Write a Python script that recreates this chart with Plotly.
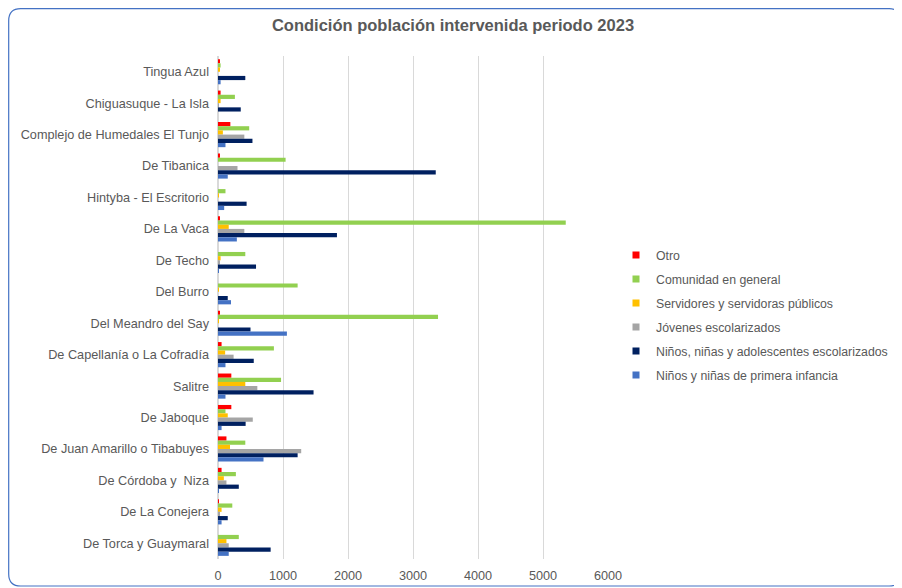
import plotly.graph_objects as go

humedales = [
    "Tingua Azul",
    "Chiguasuque - La Isla",
    "Complejo de Humedales El Tunjo",
    "De Tibanica",
    "Hintyba - El Escritorio",
    "De La Vaca",
    "De Techo",
    "Del Burro",
    "Del Meandro del Say",
    "De Capellanía o La Cofradía",
    "Salitre",
    "De Jaboque",
    "De Juan Amarillo o Tibabuyes",
    "De Córdoba y  Niza",
    "De La Conejera",
    "De Torca y Guaymaral",
]

otro = [25, 40, 190, 20, 0, 20, 0, 0, 20, 55, 205, 205, 130, 55, 15, 0]
comunidad = [40, 260, 480, 1040, 115, 5350, 420, 1225, 3385, 860, 970, 115, 420, 275, 220, 320]
servidores = [20, 40, 75, 0, 15, 165, 40, 15, 15, 110, 420, 150, 185, 90, 55, 130]
jovenes = [0, 10, 405, 300, 0, 405, 20, 0, 0, 240, 605, 535, 1280, 130, 30, 165]
nna_escolarizados = [420, 350, 530, 3350, 440, 1830, 585, 150, 500, 550, 1470, 425, 1225, 320, 150, 810]
primera_infancia = [40, 0, 115, 150, 95, 290, 15, 200, 1060, 115, 115, 55, 700, 15, 55, 165]

series = [
    ("Otro", otro, "#FF0000"),
    ("Comunidad en general", comunidad, "#92D050"),
    ("Servidores y servidoras públicos", servidores, "#FFC000"),
    ("Jóvenes escolarizados", jovenes, "#A5A5A5"),
    ("Niños, niñas y adolescentes escolarizados", nna_escolarizados, "#002060"),
    ("Niños y niñas de primera infancia", primera_infancia, "#4472C4"),
]

texto = "#595959"
fs = 12.7
fig = go.Figure()

for nombre, valores, color in series:
    fig.add_trace(go.Bar(
        name=nombre, y=humedales, x=valores, orientation="h",
        marker=dict(color=color, line=dict(width=0)),
        showlegend=False,
    ))
    # legend entry with a small square marker like the original
    fig.add_trace(go.Scatter(
        name=nombre, x=[None], y=[None], mode="markers",
        marker=dict(symbol="square", size=7, color=color),
        legendgroup=nombre,
    ))

# the page has an 8px body margin, so sizes are reduced by 8
W, H = 894, 580
L, R, T, B = 210, 294, 48, 29
pw, ph = W - L - R, H - T - B


def px(x, y):
    return (x - L) / pw, (H - B - y) / ph


def frame_path(x0, y0, x1, y1, r):
    def p(x, y):
        a, b = px(x, y)
        return f"{a:.5f},{b:.5f}"
    pts = [
        "M " + p(x0 + r, y0),
        "L " + p(x1 - r, y0),
        "Q " + p(x1, y0) + " " + p(x1, y0 + r),
        "L " + p(x1, y1 - r),
        "Q " + p(x1, y1) + " " + p(x1 - r, y1),
        "L " + p(x0 + r, y1),
        "Q " + p(x0, y1) + " " + p(x0, y1 - r),
        "L " + p(x0, y0 + r),
        "Q " + p(x0, y0) + " " + p(x0 + r, y0),
    ]
    return " ".join(pts) + " Z"


fig.update_layout(
    width=W, height=H,
    margin=dict(l=L, r=R, t=T, b=B, autoexpand=False),
    paper_bgcolor="white", plot_bgcolor="white",
    font=dict(family="Liberation Sans, Arial, sans-serif", size=fs, color=texto),
    title=dict(
        text="<b>Condición población intervenida periodo 2023</b>",
        x=445 / W, xanchor="center", y=1 - 17 / H, yanchor="middle",
        font=dict(size=16.5, color=texto),
    ),
    barmode="group", bargap=0.2, bargroupgap=0,
    legend=dict(
        x=px(608, 0)[0], xanchor="left", y=px(0, 307)[1], yanchor="middle",
        font=dict(size=12.3, color=texto), traceorder="grouped",
        tracegroupgap=5, itemwidth=30, bgcolor="rgba(0,0,0,0)",
    ),
    shapes=[dict(
        type="path", xref="paper", yref="paper",
        path=frame_path(0.7, 0.7, 893.3, 578, 12),
        line=dict(color="#4472C4", width=1.2), layer="below",
    )],
)

fig.update_xaxes(
    range=[0, 6000], dtick=1000, showgrid=True, gridcolor="#D9D9D9",
    gridwidth=1, zeroline=True, zerolinecolor="#D9D9D9", showline=False,
    tickfont=dict(size=fs, color=texto), ticklabelstandoff=7,
    automargin=False,
)
fig.update_yaxes(
    autorange="reversed", showgrid=False, showline=False,
    ticks="", ticklabelstandoff=8, tickfont=dict(size=fs, color=texto),
    automargin=False,
)

fig.write_html("out.html")
